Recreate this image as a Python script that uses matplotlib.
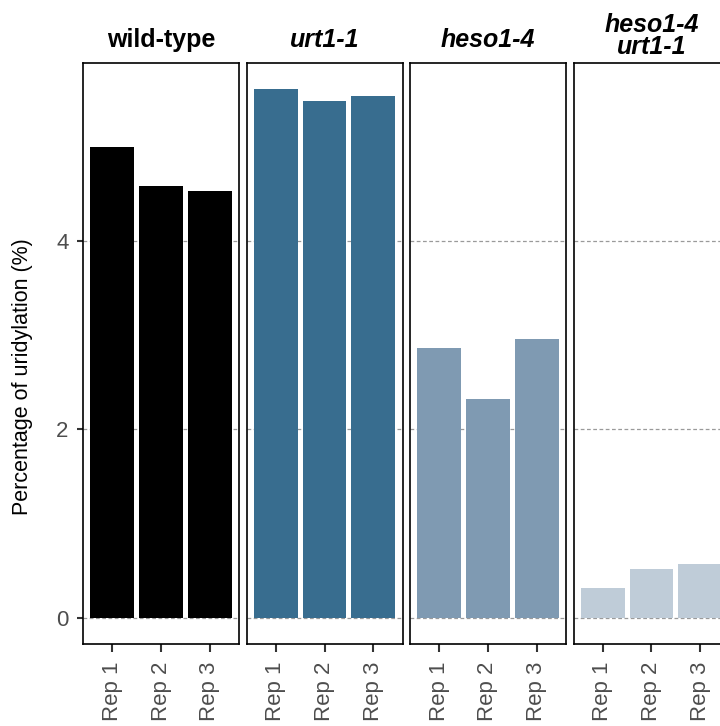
import matplotlib
matplotlib.use("Agg")
import matplotlib.pyplot as plt

# ─── DATA ─────────────────────────────────────────────────────────────────────
GENOTYPES = ["wild-type", "urt1-1", "heso1-4", "heso1-4\nurt1-1"]
ITALIC = [False, True, True, True]
REPS = ["Rep 1", "Rep 2", "Rep 3"]
WILD_TYPE = [5.00, 4.58, 4.53]
URT1 = [5.61, 5.49, 5.54]
HESO1 = [2.86, 2.32, 2.96]
HESO1_URT1 = [0.31, 0.52, 0.57]
COLORS = ["#000000", "#386D8F", "#7F9AB2", "#BFCCD8"]
# ──────────────────────────────────────────────────────────────────────────────

plt.rcParams["font.family"] = ["Liberation Sans", "DejaVu Sans"]

W, H = 720, 726
fig = plt.figure(figsize=(W / 100, H / 100), dpi=100)

series = [WILD_TYPE, URT1, HESO1, HESO1_URT1]
ymax = max(max(s) for s in series)
ylo, yhi = -0.05 * ymax, 1.05 * ymax

left0, panel_w, gap = 83, 156, 7.5
top_px, bottom_px = 63, 644

for i, (name, vals) in enumerate(zip(GENOTYPES, series)):
    x0 = left0 + i * (panel_w + gap)
    ax = fig.add_axes([x0 / W, 1 - bottom_px / H, panel_w / W, (bottom_px - top_px) / H])
    pos = list(range(1, len(REPS) + 1))
    for y in (0, 2, 4):
        ax.axhline(y, color="#9a9a9a", linewidth=0.9, linestyle=(0, (3, 2)), zorder=0)
    ax.bar(pos, vals, width=0.9, color=COLORS[i], zorder=2)
    ax.set_xlim(0.4, 3.6)
    ax.set_ylim(ylo, yhi)
    ax.set_xticks(pos)
    ax.set_xticklabels(REPS, rotation=90, fontsize=16, color="#4D4D4D")
    ax.tick_params(axis="x", length=5.5, width=1.5, color="#333333", pad=7)
    if i == 0:
        ax.set_yticks([0, 2, 4])
        ax.set_yticklabels(["0", "2", "4"], fontsize=16, color="#4D4D4D")
        ax.tick_params(axis="y", length=4.5, width=1.5, color="#333333", pad=6)
    else:
        ax.set_yticks([])
    for sp in ax.spines.values():
        sp.set_linewidth(1.2)
        sp.set_color("black")

    cx = (x0 + panel_w / 2) / W
    base = 54 if "\n" in name else 47
    fig.text(cx, 1 - base / H, name, ha="center", va="baseline", fontsize=18,
             fontweight="bold", fontstyle="italic" if ITALIC[i] else "normal",
             linespacing=0.9)

fig.text(23 / W, 1 - 377 / H, "Percentage of uridylation (%)", rotation=90,
         ha="center", va="center", fontsize=15.5)

fig.savefig("out.png", dpi=100)
